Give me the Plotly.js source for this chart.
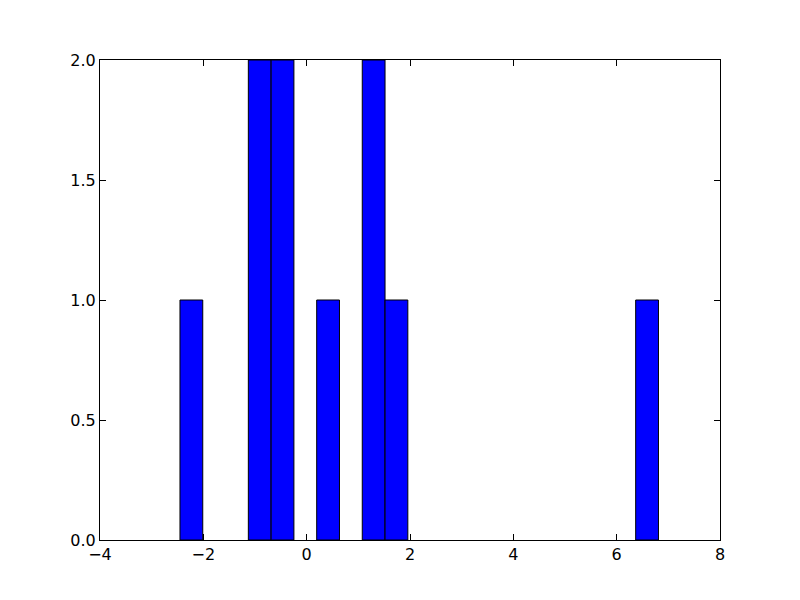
<!DOCTYPE html>
<html>
<head>
<meta charset="utf-8">
<script src="https://cdn.plot.ly/plotly-3.0.1.min.js"></script>
<style>html,body{margin:0;padding:0;background:#fff;}#chart{width:800px;height:600px;}</style>
</head>
<body>
<div id="chart"></div>
<script>
// Histogram bins (left edges) with non-zero counts
const binLeftEdges = [-2.452, -1.129, -0.688, 0.194, 1.076, 1.517, 6.368];
const binCounts = [1, 2, 2, 1, 2, 1, 1];
const binWidth = 0.441;
const xTickVals = [-4, -2, 0, 2, 4, 6, 8];
const yTickVals = [0, 0.5, 1.0, 1.5, 2.0];

const trace = {
  type: 'bar',
  x: binLeftEdges,
  y: binCounts,
  width: binLeftEdges.map(() => binWidth),
  offset: 0,
  marker: {color: '#0000ff', line: {color: '#000000', width: 1}},
  hoverinfo: 'x+y'
};

const axisCommon = {
  showgrid: false,
  zeroline: false,
  showline: true,
  linecolor: '#000',
  linewidth: 1,
  mirror: 'ticks',
  ticks: 'inside',
  ticklen: 6,
  tickwidth: 1,
  tickcolor: '#000',
  tickfont: {family: 'DejaVu Sans', size: 16, color: '#000'}
};

const layout = {
  width: 800, height: 600,
  margin: {l: 100, r: 80, t: 60, b: 60},
  paper_bgcolor: '#fff', plot_bgcolor: '#fff',
  showlegend: false,
  bargap: 0,
  xaxis: Object.assign({}, axisCommon, {range: [-4, 8], tickvals: xTickVals, ticktext: xTickVals.map(v => v < 0 ? '\u2212' + Math.abs(v) : String(v))}),
  yaxis: Object.assign({}, axisCommon, {range: [0, 2], tickvals: yTickVals, ticktext: yTickVals.map(v => v.toFixed(1))})
};

Plotly.newPlot('chart', [trace], layout, {displayModeBar: false, staticPlot: true});
</script>
</body>
</html>
